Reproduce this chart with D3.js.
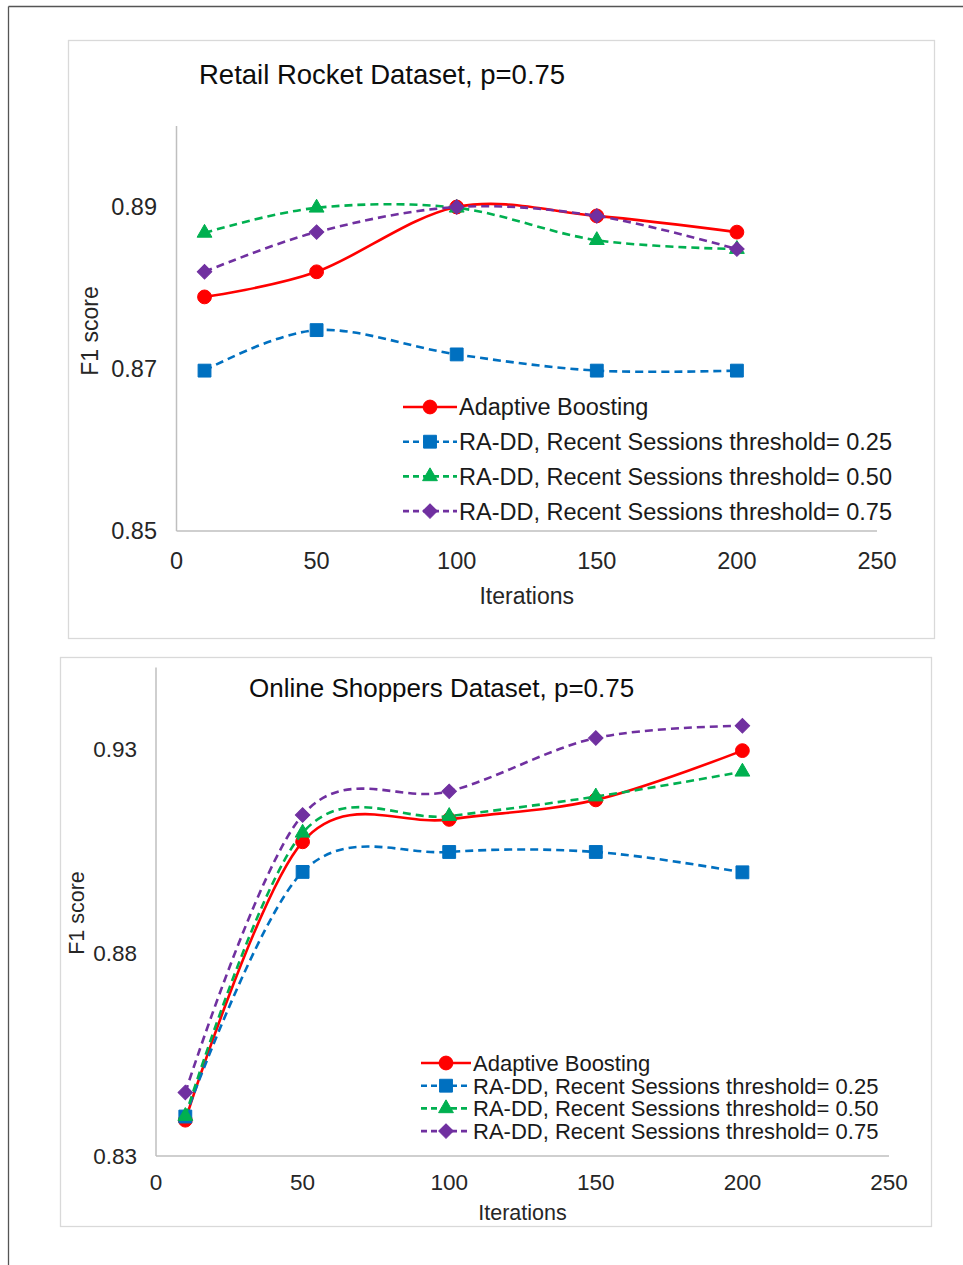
<!DOCTYPE html>
<html>
<head>
<meta charset="utf-8">
<script src="https://cdn.jsdelivr.net/npm/d3@7"></script>
<style>
  html, body { margin: 0; padding: 0; background: #fff; }
  svg { display: block; font-family: "Liberation Sans", Arial, sans-serif; }
</style>
</head>
<body>
<svg id="fig" width="963" height="1265"></svg>
<script>
// Iteration counts shared by both experiments
const iterations = [10, 50, 100, 150, 200];

// Legend labels
const seriesNames = [
  "Adaptive Boosting",
  "RA-DD, Recent Sessions threshold= 0.25",
  "RA-DD, Recent Sessions threshold= 0.50",
  "RA-DD, Recent Sessions threshold= 0.75"
];

// Retail Rocket, F1 score per iteration count
const rrAdaBoost = [0.8789, 0.8820, 0.8900, 0.8889, 0.8869];
const rrThr025   = [0.8698, 0.8748, 0.8718, 0.8698, 0.8698];
const rrThr050   = [0.8868, 0.8899, 0.8899, 0.8859, 0.8848];
const rrThr075   = [0.8820, 0.8869, 0.8900, 0.8889, 0.8848];

// Online Shoppers, F1 score per iteration count
const osAdaBoost = [0.8388, 0.9072, 0.9127, 0.9175, 0.9296];
const osThr025   = [0.8397, 0.8998, 0.9047, 0.9047, 0.8997];
const osThr050   = [0.8398, 0.9094, 0.9135, 0.9183, 0.9244];
const osThr075   = [0.8456, 0.9138, 0.9196, 0.9327, 0.9357];

// Axis ticks
const xTicks = [0, 50, 100, 150, 200, 250];
const rrYTicks = [0.85, 0.87, 0.89];
const osYTicks = [0.83, 0.88, 0.93];

// Series styling: colour, dash, marker
const styles = [
  { color: "#FF0000", dash: null,  marker: "circle" },
  { color: "#0070C0", dash: "8,5", marker: "square" },
  { color: "#00B050", dash: "8,5", marker: "triangle" },
  { color: "#7030A0", dash: "8,5", marker: "diamond" }
];

const svg = d3.select("#fig");

// Page frame
svg.append("line").attr("x1", 8.5).attr("y1", 6.5).attr("x2", 963).attr("y2", 6.5)
  .attr("stroke", "#555").attr("stroke-width", 1.3);
svg.append("line").attr("x1", 8.5).attr("y1", 6.5).attr("x2", 8.5).attr("y2", 1265)
  .attr("stroke", "#555").attr("stroke-width", 1.3);

function markerPath(kind) {
  switch (kind) {
    case "circle":   return d3.symbol(d3.symbolCircle, 150)();
    case "square":   return d3.symbol(d3.symbolSquare, 165)();
    case "triangle": return d3.symbol(d3.symbolTriangle, 95)();
    case "diamond":  return d3.symbol(d3.symbolSquare, 105)();
  }
}

function drawMarker(g, kind, color, x, y) {
  g.append("path")
    .attr("d", markerPath(kind))
    .attr("transform", `translate(${x},${y})` + (kind === "diamond" ? " rotate(45)" : ""))
    .attr("fill", color)
    .attr("stroke", color)
    .attr("stroke-width", 1);
}

function drawChart(cfg) {
  const g = svg.append("g");

  // Chart box
  g.append("rect")
    .attr("x", cfg.box[0] + 0.5).attr("y", cfg.box[1] + 0.5)
    .attr("width", cfg.box[2]).attr("height", cfg.box[3])
    .attr("fill", "#fff").attr("stroke", "#d9d9d9").attr("stroke-width", 1.3);

  const x = d3.scaleLinear().domain([0, 250]).range(cfg.xRange);
  const y = d3.scaleLinear().domain(cfg.yDomain).range(cfg.yRange);

  // Axis lines
  g.append("line")
    .attr("x1", x(0)).attr("x2", x(0)).attr("y1", y(cfg.yDomain[0])).attr("y2", y(cfg.yDomain[1]))
    .attr("stroke", "#bfbfbf").attr("stroke-width", 1.5);
  g.append("line")
    .attr("x1", x(0)).attr("x2", x(250)).attr("y1", y(cfg.yDomain[0])).attr("y2", y(cfg.yDomain[0]))
    .attr("stroke", "#bfbfbf").attr("stroke-width", 1.5);

  // Y tick labels
  g.selectAll(".ytick").data(cfg.yTicks).enter().append("text")
    .attr("x", cfg.yLabelRight).attr("y", d => y(d)).attr("dy", "0.36em")
    .attr("text-anchor", "end").attr("font-size", cfg.tickSize).attr("fill", "#262626")
    .text(d => d3.format(".2f")(d));

  // X tick labels
  g.selectAll(".xtick").data(xTicks).enter().append("text")
    .attr("x", d => x(d)).attr("y", cfg.xLabelY).attr("dy", "0.36em")
    .attr("text-anchor", "middle").attr("font-size", cfg.tickSize).attr("fill", "#262626")
    .text(d => d);

  // Axis titles
  g.append("text")
    .attr("x", (x(0) + x(250)) / 2).attr("y", cfg.xTitleY).attr("dy", "0.36em")
    .attr("text-anchor", "middle").attr("font-size", cfg.axisTitleSize).attr("fill", "#262626")
    .text("Iterations");
  g.append("text")
    .attr("transform", `translate(${cfg.yTitle[0]},${cfg.yTitle[1]}) rotate(-90)`)
    .attr("dy", "0.36em")
    .attr("text-anchor", "middle").attr("font-size", cfg.axisTitleSize).attr("fill", "#262626")
    .text("F1 score");

  // Chart title
  g.append("text")
    .attr("x", cfg.title[0]).attr("y", cfg.title[1])
    .attr("font-size", cfg.titleSize).attr("fill", "#0d0d0d")
    .text(cfg.titleText);

  // Smoothed series lines with markers
  const line = d3.line()
    .x(d => x(d[0]))
    .y(d => y(d[1]))
    .curve(d3.curveCatmullRom.alpha(0));

  cfg.series.forEach((vals, i) => {
    const st = styles[i];
    const pts = iterations.map((it, k) => [it, vals[k]]);
    const sg = g.append("g");
    sg.append("path")
      .attr("d", line(pts))
      .attr("fill", "none")
      .attr("stroke", st.color)
      .attr("stroke-width", 2.6)
      .attr("stroke-dasharray", st.dash);
    pts.forEach(p => drawMarker(sg, st.marker, st.color, x(p[0]), y(p[1])));
  });

  // Legend
  const lg = g.append("g");
  seriesNames.forEach((name, i) => {
    const st = styles[i];
    const ly = cfg.legend.y0 + i * cfg.legend.step;
    lg.append("line")
      .attr("x1", cfg.legend.x0).attr("x2", cfg.legend.x1)
      .attr("y1", ly).attr("y2", ly)
      .attr("stroke", st.color).attr("stroke-width", 2.6)
      .attr("stroke-dasharray", st.dash ? "6,4" : null);
    drawMarker(lg, st.marker, st.color, (cfg.legend.x0 + cfg.legend.x1) / 2, ly);
    lg.append("text")
      .attr("x", cfg.legend.x1 + 2).attr("y", ly).attr("dy", "0.36em")
      .attr("font-size", cfg.legend.size).attr("fill", "#1a1a1a")
      .text(name);
  });
}

drawChart({
  box: [68, 40, 866, 598],
  xRange: [176.5, 877],
  yDomain: [0.85, 0.90],
  yRange: [531, 126],
  yTicks: rrYTicks,
  yLabelRight: 157,
  xLabelY: 561,
  xTitleY: 596,
  yTitle: [90, 331],
  tickSize: 23.5,
  axisTitleSize: 23,
  title: [199, 84],
  titleSize: 27.5,
  titleText: "Retail Rocket Dataset, p=0.75",
  series: [rrAdaBoost, rrThr025, rrThr050, rrThr075],
  legend: { x0: 403, x1: 457, y0: 407, step: 34.7, size: 23.5 }
});

drawChart({
  box: [60, 657, 871, 569],
  xRange: [156, 889],
  yDomain: [0.83, 0.95],
  yRange: [1156, 667.6],
  yTicks: osYTicks,
  yLabelRight: 137,
  xLabelY: 1182,
  xTitleY: 1212,
  yTitle: [76, 913],
  tickSize: 22.5,
  axisTitleSize: 21.5,
  title: [249, 697],
  titleSize: 26,
  titleText: "Online Shoppers Dataset, p=0.75",
  series: [osAdaBoost, osThr025, osThr050, osThr075],
  legend: { x0: 421, x1: 471, y0: 1063, step: 22.7, size: 22 }
});
</script>
</body>
</html>
